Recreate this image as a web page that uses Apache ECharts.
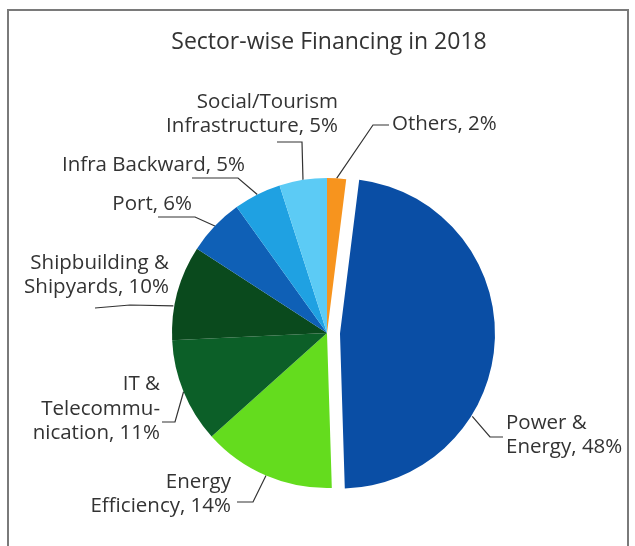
<!DOCTYPE html>
<html>
<head>
<meta charset="utf-8">
<script src="https://cdn.jsdelivr.net/npm/echarts@6/dist/echarts.min.js"></script>
<style>
  html, body { margin: 0; padding: 0; background: #fff; }
  #wrap { position: relative; width: 635px; height: 546px; overflow: hidden; }
  #chart { position: absolute; left: 0; top: 0; width: 635px; height: 546px; }
  #frame {
    position: absolute; left: 7px; top: 9px; width: 618px; height: 600px;
    border-left: 2px solid #7a7a7a; border-top: 2px solid #7a7a7a; border-right: 2px solid #7a7a7a;
    pointer-events: none;
  }
</style>
</head>
<body>
<div id="wrap">
  <div id="chart"></div>
  <div id="frame"></div>
</div>
<script>
// Sector shares of 2018 financing, clockwise from twelve o'clock
const sectors = [
  'Others',
  'Power &\nEnergy',
  'Energy\nEfficiency',
  'IT &\nTelecommu-\nnication',
  'Shipbuilding &\nShipyards',
  'Port',
  'Infra Backward',
  'Social/Tourism\nInfrastructure'
];
const shares = [2, 48, 14, 11, 10, 6, 5, 5];
const sectorColors = ['#f7941e', '#0a4ea5', '#64dc1e', '#0c5f28', '#0a4a1d', '#0f60b6', '#1fa1e2', '#5ccbf5'];
const pulledOut = 'Power &\nEnergy';

const CENTER = [327, 333];
const RADIUS = 155;
const EXPLODE = 13;

// The pulled-out slice is drawn by a second pie whose centre is pushed
// along that slice's bisector.
const total = shares.reduce((a, b) => a + b, 0);
const pullIdx = sectors.indexOf(pulledOut);
const before = shares.slice(0, pullIdx).reduce((a, b) => a + b, 0);
const midDeg = (before + shares[pullIdx] / 2) / total * 360;
const PULLED_CENTER = [
  CENTER[0] + EXPLODE * Math.sin(midDeg * Math.PI / 180),
  CENTER[1] - EXPLODE * Math.cos(midDeg * Math.PI / 180)
];

// Label placement: text anchor, alignment and leader-line bend/end points.
// 'fromAngle' (clockwise from top) overrides where the leader leaves the rim.
const labelSpots = [
  { x: 392, y: 124, align: 'left',  bend: [373, 125], end: [389, 125] },
  { x: 506, y: 435, align: 'left',  bend: [490, 437], end: [503, 437], fromAngle: 122 },
  { x: 231, y: 494, align: 'right', bend: [253, 502], end: [237, 502] },
  { x: 160, y: 409, align: 'right', bend: [175, 422], end: [162, 422] },
  { x: 169, y: 275, align: 'right', bend: [130, 305], end: [95, 308], fromAngle: 280 },
  { x: 192, y: 204, align: 'right', bend: [195, 217], end: [158, 217] },
  { x: 245, y: 165, align: 'right', bend: [238, 178], end: [192, 178] },
  { x: 338, y: 114, align: 'right', bend: [302, 142], end: [277, 142] }
];

const FONT = '"Open Sans", Lato, sans-serif';

function makeLayout(center) {
  return function (params) {
    const s = labelSpots[params.dataIndex];
    let start = params.labelLinePoints ? params.labelLinePoints[0] : s.bend;
    if (s.fromAngle != null) {
      const a = s.fromAngle * Math.PI / 180;
      start = [center[0] + (RADIUS + 1) * Math.sin(a), center[1] - (RADIUS + 1) * Math.cos(a)];
    }
    return {
      x: s.x,
      y: s.y,
      align: s.align,
      verticalAlign: 'middle',
      labelLinePoints: [start, s.bend, s.end]
    };
  };
}

function pieSeries(center, visible) {
  return {
    type: 'pie',
    center: center,
    radius: RADIUS,
    startAngle: 90,
    clockwise: true,
    avoidLabelOverlap: false,
    silent: true,
    emphasis: { disabled: true },
    itemStyle: { borderWidth: 0 },
    label: {
      show: true,
      position: 'outside',
      fontFamily: FONT,
      fontSize: 20.5,
      lineHeight: 24.5,
      color: '#333',
      formatter: p => p.name + ', ' + p.value + '%'
    },
    labelLine: {
      show: true,
      smooth: false,
      lineStyle: { color: '#333', width: 1.2 }
    },
    labelLayout: makeLayout(center),
    data: sectors.map((name, i) => {
      const on = visible(name);
      return {
        name: name,
        value: shares[i],
        itemStyle: { color: on ? sectorColors[i] : 'rgba(0,0,0,0)' },
        label: { show: on },
        labelLine: { show: on }
      };
    })
  };
}

const chart = echarts.init(document.getElementById('chart'), null, { renderer: 'canvas' });

chart.setOption({
  animation: false,
  title: {
    text: 'Sector-wise Financing in 2018',
    left: 324,
    top: 26,
    textAlign: 'center',
    textStyle: { fontFamily: FONT, fontSize: 23, fontWeight: 'normal', color: '#333' }
  },
  series: [
    pieSeries(CENTER, name => name !== pulledOut),
    pieSeries(PULLED_CENTER, name => name === pulledOut)
  ]
});
</script>
</body>
</html>
